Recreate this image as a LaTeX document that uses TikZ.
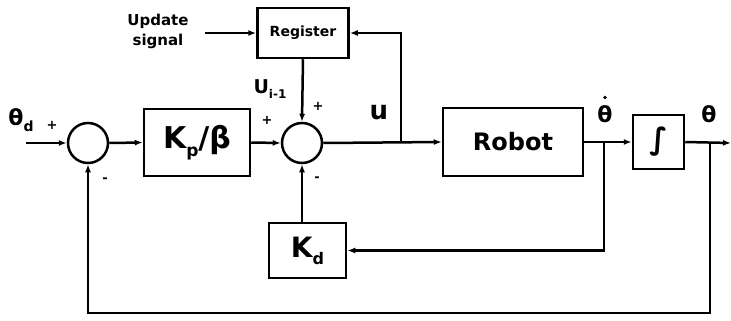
\documentclass[tikz,border=0pt]{standalone}
\usepackage{fontspec}
\setmainfont{DejaVu Sans}
\usetikzlibrary{arrows.meta}
\newcommand{\fs}[1]{\fontsize{#1}{#1}\selectfont}
\begin{document}
\begin{tikzpicture}[x=1pt,y=-1pt,line width=2.5pt,
  blk/.style={draw,line width=2.5pt,inner sep=0pt},
  sumc/.style={draw,circle,line width=2.5pt,minimum size=40pt,inner sep=0pt},
  arr/.style={-{Latex[length=8pt,width=6pt]}},
  sgn/.style={font=\fs{13}\bfseries,inner sep=0pt},
  lbl/.style={inner sep=0pt}]
\useasboundingbox (0,0) rectangle (731,321);
% blocks
\node[sumc] (s1) at (88,143) {};
\node[sumc] (s2) at (302,143) {};
\node[blk,minimum width=106pt,minimum height=67pt,font=\fs{30}\bfseries] (kp) at (197,142.5) {K\raisebox{-0.25em}{\fs{17}p}/β};
\node[blk,minimum width=91pt,minimum height=50pt,font=\fs{14}\bfseries] (reg) at (303,33) {Register};
\node[blk,minimum width=140pt,minimum height=68pt,font=\fs{24}\bfseries] (robot) at (513,142) {Robot};
\node[blk,minimum width=51pt,minimum height=54pt,font=\fs{30}\bfseries] (J) at (658.5,142) {∫};
\node[blk,minimum width=77pt,minimum height=55pt,font=\fs{28}\bfseries] (kd) at (307.5,250.5) {K\raisebox{-0.25em}{\fs{16}d}};
% coordinates
\coordinate (in) at (26,143);
\coordinate (out) at (731,143);
\coordinate (us) at (205,33);
\coordinate (bu) at (401,143);
\coordinate (bd) at (604,143);
\coordinate (bt) at (710,143);
% connectors
\draw[arr] (in) -- (s1.west);
\draw[arr] (s1.east) -- (kp.west);
\draw[arr] (kp.east) -- (s2.west);
\draw[arr] (s2.east) -- (robot.west);
\draw[arr] (bu) |- (reg.east);
\draw[arr] (us) -- (reg.west);
\draw[arr] (reg.south) -- (s2.north);
\draw[arr] (robot.east) -- (J.west);
\draw[arr] (J.east) -- (out);
\draw[arr] (bd) |- (kd.east);
\draw[arr] (kd.north -| s2) -- (s2.south);
\draw[arr] (bt) -- ++(0,170) -| (s1.south);
% labels
\node[lbl,align=center,font=\fs{15}\bfseries] (upd) at (158,31) {Update\\[5pt]signal};
\node[lbl,font=\fs{19}\bfseries] (ui) at (270,89) {U\raisebox{-0.3em}{\fs{12}i-1}};
\node[lbl,font=\fs{26}\bfseries] (ul) at (379,113) {u};
\node[lbl,font=\fs{22}\bfseries] (thd) at (21,120) {θ\raisebox{-0.3em}{\fs{14}d}};
\node[lbl,font=\fs{22}\bfseries] (thdot) at (605,114) {θ};
\fill (605,97.5) circle (1.8pt);
\node[lbl,font=\fs{22}\bfseries] (th) at (709,114) {θ};
\node[sgn] at (52,125) {+};
\node[sgn] at (267,120) {+};
\node[sgn] at (318,106) {+};
\node[sgn] at (105,180) {-};
\node[sgn] at (317,179) {-};
\end{tikzpicture}
\end{document}
